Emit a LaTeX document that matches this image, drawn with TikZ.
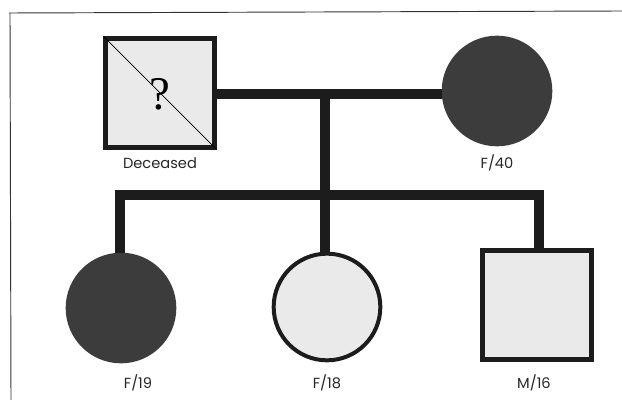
\documentclass[tikz,border=0pt]{standalone}
\usepackage{fontspec}
\setmainfont{Poppins}
\newfontfamily\qfont{Liberation Serif}
\usepackage{xcolor}
\usepackage{tikz}

\definecolor{darkfill}{HTML}{3C3C3C}
\definecolor{lightfill}{HTML}{EAEAEA}
\definecolor{edge}{HTML}{1C1C1C}

\tikzset{
  male/.style={rectangle, draw=edge, line width=4pt, minimum size=3.25cm, inner sep=0pt},
  female/.style={circle, draw=edge, line width=3.4pt, minimum size=3.2cm, inner sep=0pt},
  affected/.style={fill=darkfill},
  unaffected/.style={fill=lightfill},
  link/.style={draw=edge, line width=8.8pt},
  agelabel/.style={font=\fontsize{12.5}{14}\selectfont, text=black!85}
}

\begin{document}
\begin{tikzpicture}[x=0.03cm, y=-0.03cm]
        \useasboundingbox (0,0) rectangle (622,400);

        % frame
        \draw[line width=0.8pt, black!80] (9,13) -- (622,11);
        \draw[line width=0.8pt, black!80] (10,13) -- (11,400);

        % parents
        \node[male, unaffected] (father) at (160,93) {};
        \node[female, affected, draw=darkfill] (mother) at (497,91) {};
        \draw[line width=0.6pt, black] (father.north west) -- (father.south east);
        \node[font=\qfont\fontsize{40}{40}\selectfont] (qmark) at (160,94) {?};

        \coordinate (m) at (325,94);
        \coordinate (s) at (325,195);

        % children
        \node[female, affected, draw=darkfill] (f19) at (121,308) {};
        \node[female, unaffected] (f18) at (327,307) {};
        \node[male, unaffected] (m16) at (537,305) {};

        \draw[link] (father.east |- m) -- (mother.west |- m);
        \draw[link] (m) -- (s);
        \draw[link] (f19.north -| 120,0) |- (s) -| (m16.north -| 539,0);
        \draw[link] (s) -- (f18.north -| s);

        \node[agelabel] (lfather) at (160,163) {Deceased};
        \node[agelabel] (lmother) at (497,163) {F/40};
        \node[agelabel] (lf19) at (138,383) {F/19};
        \node[agelabel] (lf18) at (327,383) {F/18};
        \node[agelabel] (lm16) at (534,383) {M/16};
    \end{tikzpicture}
\end{document}
